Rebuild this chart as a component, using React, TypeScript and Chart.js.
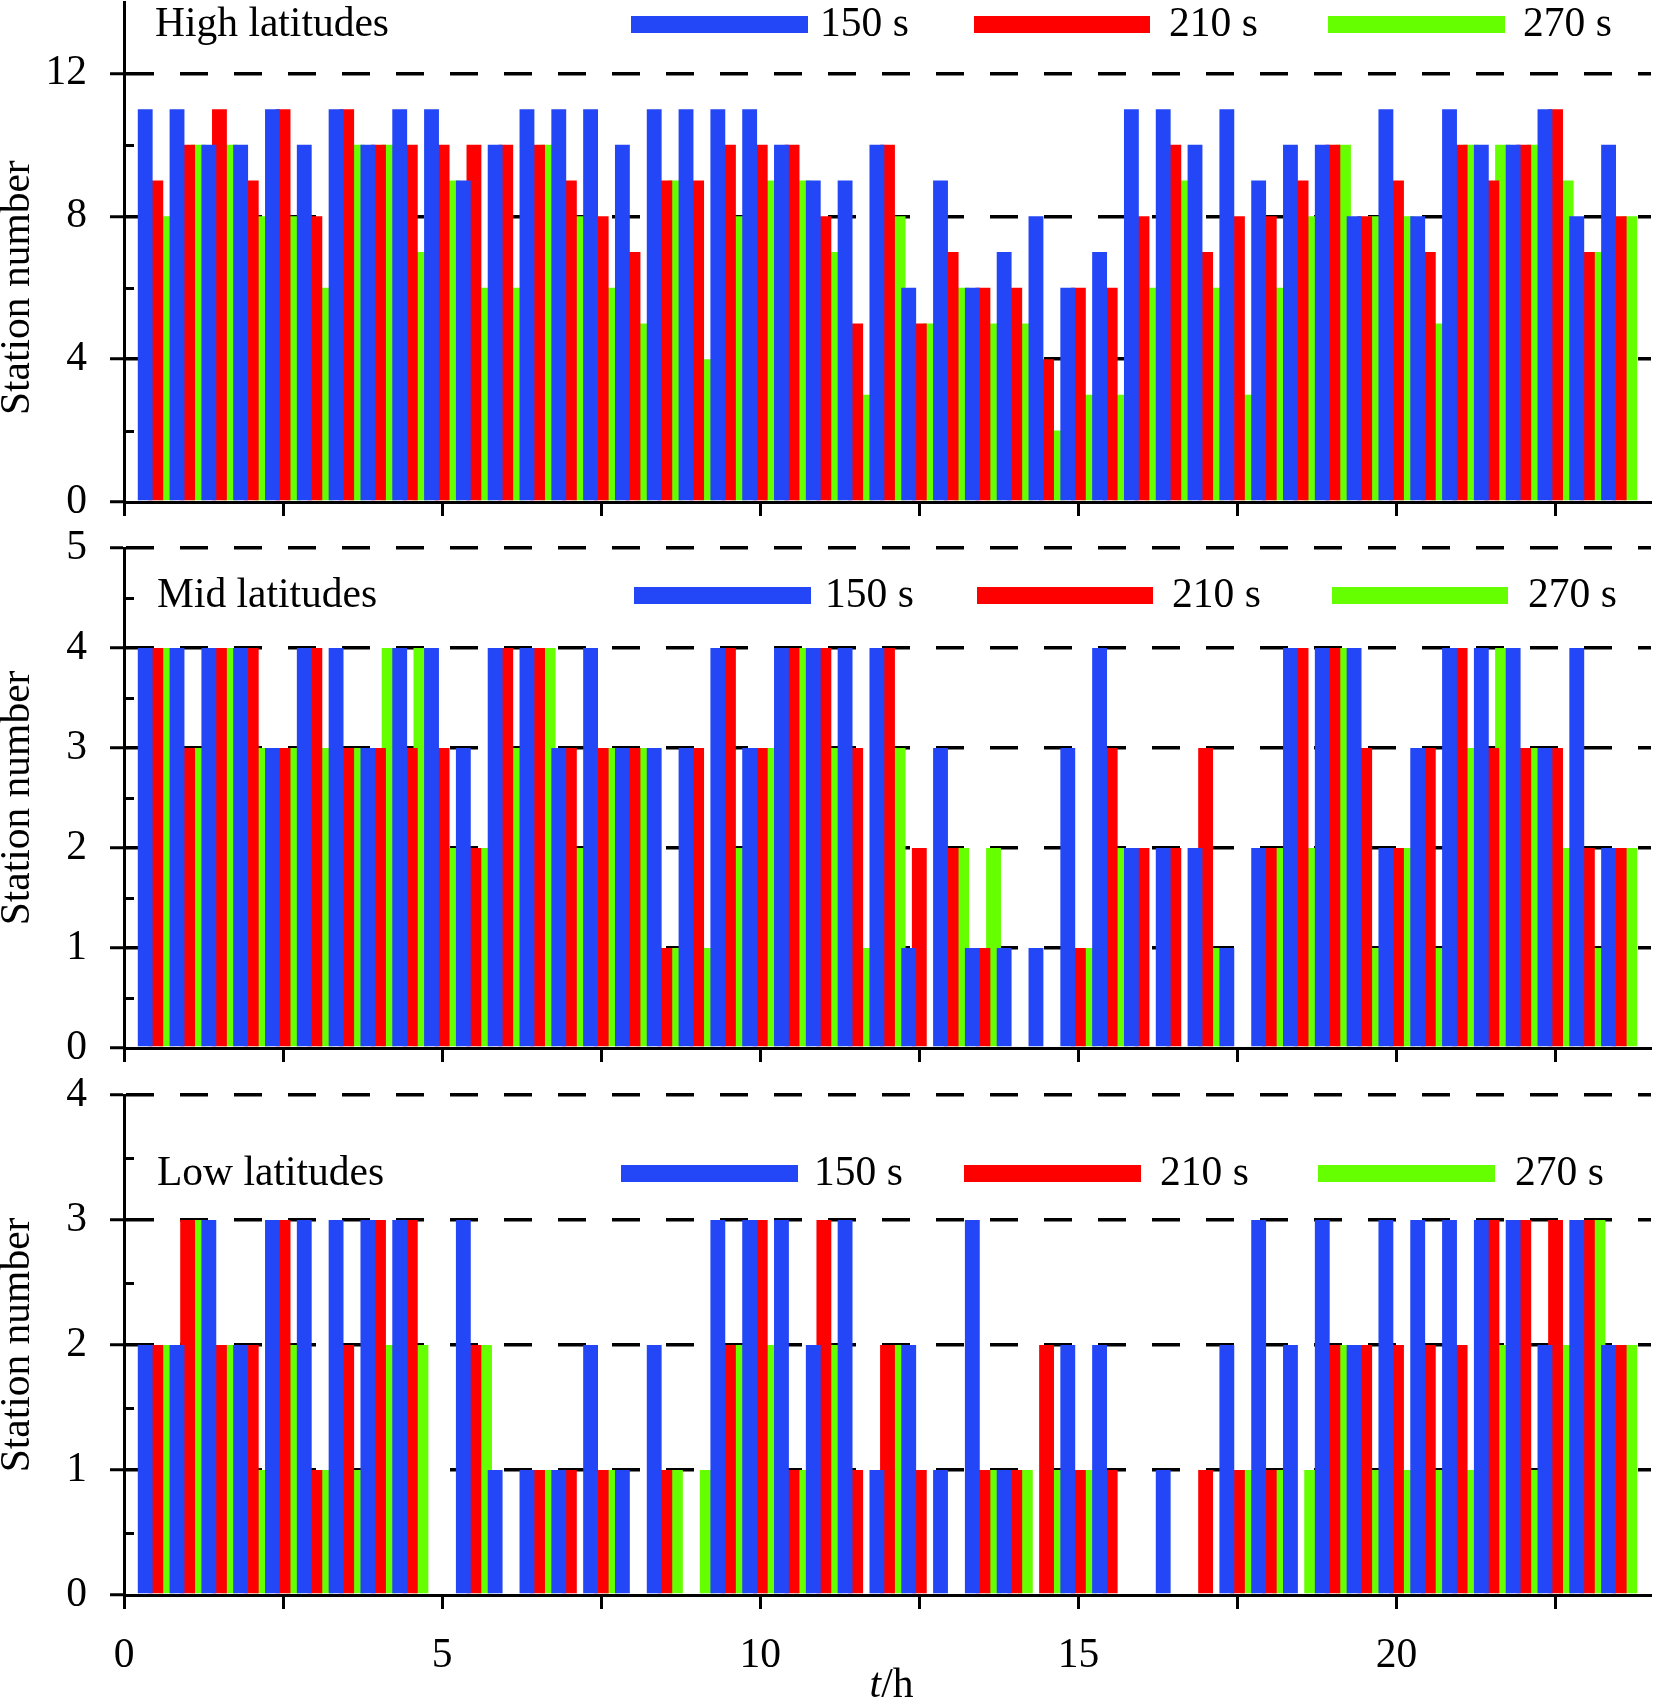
import React, { useEffect, useRef } from "react";
import { Chart, registerables } from "chart.js";

Chart.register(...registerables);

// ---------- data ----------
const hours = [
  0.5, 1, 1.5, 2, 2.5, 3, 3.5, 4, 4.5, 5, 5.5, 6,
  6.5, 7, 7.5, 8, 8.5, 9, 9.5, 10, 10.5, 11, 11.5, 12,
  12.5, 13, 13.5, 14, 14.5, 15, 15.5, 16, 16.5, 17, 17.5, 18,
  18.5, 19, 19.5, 20, 20.5, 21, 21.5, 22, 22.5, 23, 23.5,
];

const seriesLabels = ["150 s", "210 s", "270 s"];
const seriesColors = ["#2346F6", "#FF0000", "#66FF00"];

const highB = [11, 11, 10, 10, 11, 10, 11, 10, 11, 11, 9, 10, 11, 11, 11, 10, 11, 11, 11, 11, 10, 9, 9, 10, 6, 9, 6, 7, 8, 6, 7, 11, 11, 10, 11, 9, 10, 10, 8, 11, 8, 11, 10, 10, 11, 8, 10];
const highR = [9, 10, 11, 9, 11, 8, 11, 10, 10, 10, 10, 10, 10, 9, 8, 7, 9, 9, 10, 10, 10, 8, 5, 10, 5, 7, 6, 6, 4, 6, 6, 8, 10, 7, 8, 8, 9, 10, 8, 9, 7, 10, 9, 10, 11, 7, 8];
const highG = [8, 10, 10, 8, 8, 6, 10, 10, 7, 9, 6, 6, 10, 8, 6, 5, 9, 4, 8, 9, 9, 7, 3, 8, 5, 6, 5, 5, 2, 3, 3, 6, 9, 6, 3, 6, 8, 10, 8, 8, 5, 10, 10, 10, 9, 7, 8];

const midB = [4, 4, 4, 4, 3, 4, 4, 3, 4, 4, 3, 4, 4, 3, 4, 3, 3, 3, 4, 3, 4, 4, 4, 4, 1, 3, 1, 1, 1, 3, 4, 2, 2, 2, 1, 2, 4, 4, 4, 2, 3, 4, 4, 4, 3, 4, 2];
const midR = [4, 3, 4, 4, 3, 4, 3, 3, 3, 3, 2, 4, 4, 3, 3, 3, 1, 3, 4, 3, 4, 4, 3, 4, 2, 2, 1, 0, 0, 1, 3, 2, 2, 3, 0, 2, 4, 4, 3, 2, 3, 4, 3, 3, 3, 2, 2];
const midG = [4, 3, 4, 3, 3, 3, 3, 4, 4, 2, 2, 3, 4, 2, 3, 3, 1, 1, 2, 3, 4, 3, 1, 3, 0, 2, 2, 0, 0, 1, 2, 0, 0, 1, 0, 2, 2, 4, 1, 2, 1, 3, 4, 3, 2, 1, 2];

const lowB = [2, 2, 3, 2, 3, 3, 3, 3, 3, 0, 3, 1, 1, 1, 2, 1, 2, 0, 3, 3, 3, 2, 3, 1, 2, 1, 3, 1, 0, 2, 2, 0, 1, 0, 2, 3, 2, 3, 2, 3, 3, 3, 3, 3, 2, 3, 2];
const lowR = [2, 3, 2, 2, 3, 1, 2, 3, 3, 0, 2, 0, 1, 1, 1, 0, 1, 0, 2, 3, 1, 3, 1, 2, 1, 0, 1, 1, 2, 1, 1, 0, 0, 1, 1, 1, 0, 2, 2, 2, 2, 2, 3, 3, 3, 3, 2];
const lowG = [2, 3, 2, 1, 2, 1, 1, 2, 2, 0, 2, 0, 1, 0, 1, 0, 1, 1, 2, 2, 1, 2, 0, 2, 0, 0, 1, 1, 1, 1, 0, 0, 0, 0, 1, 1, 1, 2, 1, 1, 1, 1, 2, 1, 2, 3, 2];

const panelTitles = ["High latitudes", "Mid latitudes", "Low latitudes"];
const yAxisTitle = "Station number";
const xAxisTitleItalic = "t";
const xAxisTitleRest = "/h";

// ---------- layout / style ----------
const FONT = '"Liberation Serif", "Times New Roman", serif';
const FS = 41.5;
const AREA_LEFT = 124;
const PAD_TOP = 60;
const AREA_H = 500;

type LegendItem = { x0: number; x1: number; tx: number };
type PanelSpec = {
  id: string;
  title: string;
  b: number[];
  r: number[];
  g: number[];
  ymax: number;
  major: number;
  minor: number[];
  titleValue: number;
  areaTop: number;
  xh: number;
  showXLabels: boolean;
  legendDy: number;
  titleX: number;
  items: LegendItem[];
};

const panels: PanelSpec[] = [
  {
    id: "high", title: panelTitles[0], b: highB, r: highR, g: highG,
    ymax: 14, major: 4, minor: [2, 6, 10], titleValue: 6,
    areaTop: 2, xh: 60, showXLabels: false,
    legendDy: 23, titleX: 155,
    items: [
      { x0: 631, x1: 808, tx: 820 },
      { x0: 974, x1: 1150, tx: 1169 },
      { x0: 1328, x1: 1505, tx: 1523 },
    ],
  },
  {
    id: "mid", title: panelTitles[1], b: midB, r: midR, g: midG,
    ymax: 5, major: 1, minor: [0.5, 1.5, 2.5, 3.5, 4.5], titleValue: 2.5,
    areaTop: 548, xh: 60, showXLabels: false,
    legendDy: 48, titleX: 157,
    items: [
      { x0: 634, x1: 811, tx: 825 },
      { x0: 977, x1: 1153, tx: 1172 },
      { x0: 1332, x1: 1508, tx: 1528 },
    ],
  },
  {
    id: "low", title: panelTitles[2], b: lowB, r: lowR, g: lowG,
    ymax: 4, major: 1, minor: [0.5, 1.5, 2.5, 3.5], titleValue: 2,
    areaTop: 1095, xh: 106, showXLabels: true,
    legendDy: 79, titleX: 157,
    items: [
      { x0: 621, x1: 798, tx: 814 },
      { x0: 964, x1: 1141, tx: 1160 },
      { x0: 1318, x1: 1495, tx: 1515 },
    ],
  },
];

const decorPlugin = {
  id: "decor",
  afterDraw(chart: any, _args: any, opts: any) {
    const ctx = chart.ctx as CanvasRenderingContext2D;
    const area = chart.chartArea;
    const ys = chart.scales.y;
    const xs = chart.scales.x;
    ctx.save();
    // inward minor ticks on the y axis
    ctx.strokeStyle = "#000";
    ctx.lineWidth = 3;
    for (const v of opts.minor as number[]) {
      const py = Math.round(ys.getPixelForValue(v)) + 0.5;
      ctx.beginPath();
      ctx.moveTo(area.left, py);
      ctx.lineTo(area.left + 10, py);
      ctx.stroke();
    }
    // legend inside the plot
    const ly = area.top + opts.legendDy;
    ctx.font = `${FS}px ${FONT}`;
    ctx.textBaseline = "middle";
    ctx.textAlign = "left";
    ctx.fillStyle = "#000";
    ctx.fillText(opts.title, opts.titleX, ly);
    chart.data.datasets.forEach((ds: any, i: number) => {
      const it = opts.items[i];
      ctx.fillStyle = ds.backgroundColor;
      ctx.fillRect(it.x0, ly - 9, it.x1 - it.x0, 17);
      ctx.fillStyle = "#000";
      ctx.fillText(ds.label, it.tx, ly);
    });
    // rotated y title
    const ty = ys.getPixelForValue(opts.titleValue);
    ctx.save();
    ctx.translate(18, ty);
    ctx.rotate(-Math.PI / 2);
    ctx.textAlign = "center";
    ctx.textBaseline = "middle";
    ctx.fillText(yAxisTitle, 0, 0);
    ctx.restore();
    // x title
    if (opts.showXTitle) {
      ctx.font = `italic ${FS}px ${FONT}`;
      const w1 = ctx.measureText(xAxisTitleItalic).width;
      ctx.font = `${FS}px ${FONT}`;
      const w2 = ctx.measureText(xAxisTitleRest).width;
      const cx = (area.left + area.right) / 2 + 4;
      const y = xs.bottom - 15;
      const x0 = cx - (w1 + w2) / 2;
      ctx.font = `italic ${FS}px ${FONT}`;
      ctx.fillText(xAxisTitleItalic, x0, y);
      ctx.font = `${FS}px ${FONT}`;
      ctx.fillText(xAxisTitleRest, x0 + w1, y);
    }
    ctx.restore();
  },
};

function makeConfig(p: PanelSpec): any {
  const series = [p.b, p.r, p.g];
  return {
    type: "bar",
    data: {
      datasets: series.map((vals, si) => ({
        label: seriesLabels[si],
        data: hours.map((h, i) => ({ x: h, y: vals[i] })),
        backgroundColor: seriesColors[si],
        borderWidth: 0,
        categoryPercentage: 1,
        barPercentage: 1.4,
      })),
    },
    options: {
      animation: false,
      responsive: false,
      maintainAspectRatio: false,
      devicePixelRatio: 1,
      layout: { padding: { top: PAD_TOP, right: 3, left: 0, bottom: 0 } },
      plugins: {
        legend: { display: false },
        tooltip: { enabled: false },
        decor: {
          minor: p.minor,
          title: p.title,
          titleX: p.titleX,
          legendDy: p.legendDy,
          items: p.items,
          titleValue: p.titleValue,
          showXTitle: p.showXLabels,
        },
      },
      scales: {
        x: {
          type: "linear",
          min: 0,
          max: 24,
          offset: false,
          ticks: {
            stepSize: 2.5,
            includeBounds: false,
            autoSkip: false,
            maxRotation: 0,
            padding: 22,
            color: "#000",
            font: { family: FONT, size: FS },
            callback: (v: number) => (p.showXLabels && v % 5 === 0 ? String(v) : ""),
          },
          grid: {
            offset: false,
            drawOnChartArea: false,
            drawTicks: true,
            tickLength: 14,
            tickWidth: 3,
            tickColor: "#000",
          },
          border: { display: true, color: "#000", width: 3, z: 1 },
          afterFit: (s: any) => {
            s.height = p.xh;
          },
        },
        y: {
          min: 0,
          max: p.ymax,
          ticks: {
            stepSize: p.major,
            includeBounds: false,
            padding: 23,
            color: "#000",
            font: { family: FONT, size: FS },
          },
          grid: {
            color: (c: any) => (c.tick && c.tick.value === 0 ? "rgba(0,0,0,0)" : "#000"),
            lineWidth: 3.5,
            drawTicks: true,
            tickLength: 14,
            tickWidth: 3,
            tickColor: "#000",
          },
          border: { display: true, color: "#000", width: 3, dash: [28, 26], z: 1 },
          afterFit: (s: any) => {
            s.width = AREA_LEFT;
          },
        },
      },
    },
    plugins: [decorPlugin],
  };
}

function Panel({ spec }: { spec: PanelSpec }) {
  const ref = useRef<HTMLCanvasElement | null>(null);
  const height = PAD_TOP + AREA_H + spec.xh;
  const top = spec.areaTop - PAD_TOP;
  useEffect(() => {
    if (!ref.current) return;
    const chart = new Chart(ref.current, makeConfig(spec));
    return () => chart.destroy();
  }, [spec]);
  return (
    <canvas
      ref={ref}
      width={1654}
      height={height}
      style={{ position: "absolute", left: 0, top, width: 1654, height }}
    />
  );
}

export default function App() {
  return (
    <div
      style={{
        position: "absolute",
        left: 0,
        top: 0,
        width: 1654,
        height: 1701,
        overflow: "hidden",
        background: "#fff",
      }}
    >
      {panels.map((p) => (
        <Panel key={p.id} spec={p} />
      ))}
    </div>
  );
}
